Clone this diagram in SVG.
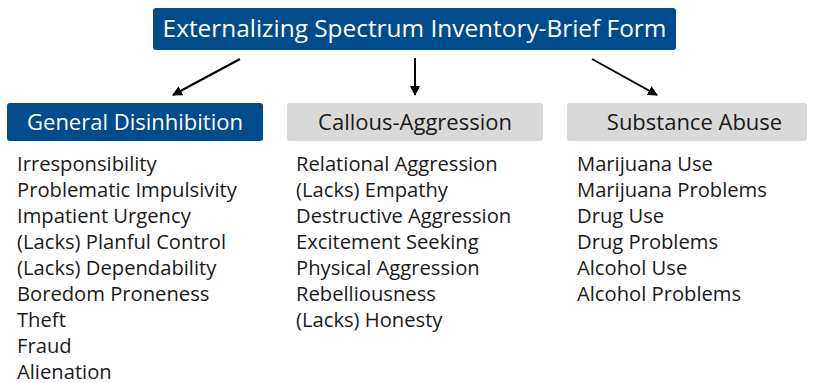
<svg xmlns="http://www.w3.org/2000/svg" width="814" height="383" viewBox="0 0 814 383">
<style>
.blue{fill:#004b8b}
.gray{fill:#d9d9d9}
.t{font-family:"Open Sans","Noto Sans",sans-serif}
.head{font-size:22px;text-anchor:middle}
.w{fill:#ffffff}
.k{fill:#1a1a1a}
.item{font-size:20.2px;fill:#1a1a1a}
.conn{stroke:#000;stroke-width:2;fill:none}
</style>
<defs>
<marker id="ah" viewBox="0 0 10 10" refX="9" refY="5" markerWidth="5" markerHeight="5" orient="auto" markerUnits="strokeWidth">
<path d="M0,0 L10,5 L0,10 z" fill="#000"/>
</marker>
</defs>
<g id="title">
<rect class="blue" x="153" y="8" width="523" height="42" rx="3"/>
<text class="t head w" x="414.5" y="37" style="font-size:24.4px">Externalizing Spectrum Inventory-Brief Form</text>
</g>
<g id="connectors">
<line class="conn" x1="240" y1="59" x2="173" y2="95" marker-end="url(#ah)"/>
<line class="conn" x1="415" y1="58" x2="415" y2="95" marker-end="url(#ah)"/>
<line class="conn" x1="592" y1="59" x2="657" y2="95" marker-end="url(#ah)"/>
</g>
<g id="general-disinhibition">
<rect class="blue" x="7" y="103" width="256" height="38" rx="3"/>
<text class="t head w" x="135" y="130">General Disinhibition</text>
<text class="t item" x="17" y="170.5">Irresponsibility</text>
<text class="t item" x="17" y="196.5">Problematic Impulsivity</text>
<text class="t item" x="17" y="222.5">Impatient Urgency</text>
<text class="t item" x="17" y="248.5">(Lacks) Planful Control</text>
<text class="t item" x="17" y="274.5">(Lacks) Dependability</text>
<text class="t item" x="17" y="300.5">Boredom Proneness</text>
<text class="t item" x="17" y="326.5">Theft</text>
<text class="t item" x="17" y="352.5">Fraud</text>
<text class="t item" x="17" y="378.5">Alienation</text>
</g>
<g id="callous-aggression">
<rect class="gray" x="287" y="103" width="256" height="38" rx="3"/>
<text class="t head k" x="415" y="130">Callous-Aggression</text>
<text class="t item" x="296" y="170.5">Relational Aggression</text>
<text class="t item" x="296" y="196.5">(Lacks) Empathy</text>
<text class="t item" x="296" y="222.5">Destructive Aggression</text>
<text class="t item" x="296" y="248.5">Excitement Seeking</text>
<text class="t item" x="296" y="274.5">Physical Aggression</text>
<text class="t item" x="296" y="300.5">Rebelliousness</text>
<text class="t item" x="296" y="326.5">(Lacks) Honesty</text>
</g>
<g id="substance-abuse">
<rect class="gray" x="567" y="103" width="240" height="38" rx="3"/>
<text class="t head k" x="694.5" y="130">Substance Abuse</text>
<text class="t item" x="577" y="170.5">Marijuana Use</text>
<text class="t item" x="577" y="196.5">Marijuana Problems</text>
<text class="t item" x="577" y="222.5">Drug Use</text>
<text class="t item" x="577" y="248.5">Drug Problems</text>
<text class="t item" x="577" y="274.5">Alcohol Use</text>
<text class="t item" x="577" y="300.5">Alcohol Problems</text>
</g>
</svg>
